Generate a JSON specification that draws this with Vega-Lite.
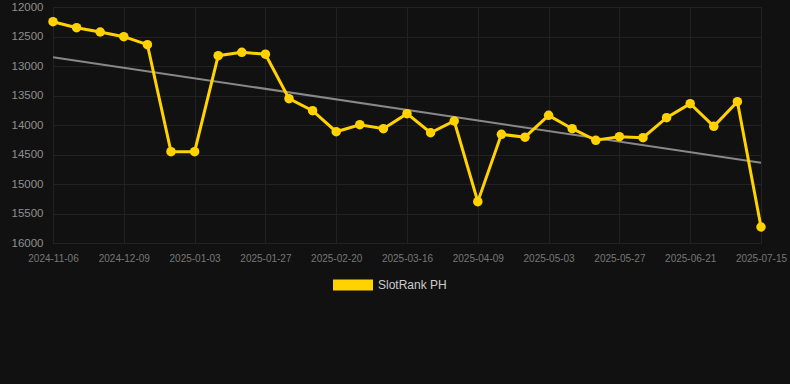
{
  "$schema": "https://vega.github.io/schema/vega-lite/v6.json",
  "width": 737,
  "height": 236,
  "autosize": {"type": "none"},
  "padding": {"left": 53, "top": 7, "right": 0, "bottom": 141},
  "background": "#111111",
  "config": {"view": {"stroke": null}, "font": "Liberation Sans"},
  "data": {"values": [
    {"date": "2024-11-06", "rank": 12249},
    {"date": "2024-11-17", "rank": 12351},
    {"date": "2024-11-28", "rank": 12424},
    {"date": "2024-12-09", "rank": 12503},
    {"date": "2024-12-17", "rank": 12639},
    {"date": "2024-12-25", "rank": 14453},
    {"date": "2025-01-03", "rank": 14453},
    {"date": "2025-01-11", "rank": 12825},
    {"date": "2025-01-19", "rank": 12768},
    {"date": "2025-01-27", "rank": 12800},
    {"date": "2025-02-04", "rank": 13554},
    {"date": "2025-02-12", "rank": 13758},
    {"date": "2025-02-20", "rank": 14114},
    {"date": "2025-02-28", "rank": 13995},
    {"date": "2025-03-08", "rank": 14063},
    {"date": "2025-03-16", "rank": 13808},
    {"date": "2025-03-24", "rank": 14131},
    {"date": "2025-04-01", "rank": 13932},
    {"date": "2025-04-09", "rank": 15300},
    {"date": "2025-04-17", "rank": 14158},
    {"date": "2025-04-25", "rank": 14207},
    {"date": "2025-05-03", "rank": 13836},
    {"date": "2025-05-11", "rank": 14063},
    {"date": "2025-05-19", "rank": 14259},
    {"date": "2025-05-27", "rank": 14198},
    {"date": "2025-06-04", "rank": 14215},
    {"date": "2025-06-12", "rank": 13876},
    {"date": "2025-06-21", "rank": 13639},
    {"date": "2025-06-29", "rank": 14022},
    {"date": "2025-07-07", "rank": 13605},
    {"date": "2025-07-15", "rank": 15729}
  ]},
  "encoding": {
    "x": {
      "field": "date", "type": "ordinal",
      "scale": {"type": "point", "range": [0, 708], "padding": 0},
      "axis": {
        "title": null,
        "values": ["2024-11-06", "2024-12-09", "2025-01-03", "2025-01-27", "2025-02-20", "2025-03-16", "2025-04-09", "2025-05-03", "2025-05-27", "2025-06-21", "2025-07-15"],
        "labelAngle": 0, "labelFontSize": 10, "labelColor": "#777777",
        "domain": false, "ticks": false, "grid": true, "gridColor": "#222222",
        "labelPadding": 10
      }
    }
  },
  "layer": [
    {
      "data": {"values": [
        {"date": "2024-11-06", "rank": 12850},
        {"date": "2025-07-15", "rank": 14640}
      ]},
      "mark": {"type": "line", "color": "#888888", "strokeWidth": 2},
      "encoding": {
        "y": {
          "field": "rank", "type": "quantitative",
          "scale": {"domain": [12000, 16000], "reverse": true, "nice": false, "zero": false},
          "axis": {"title": null, "format": "d", "values": [12000, 12500, 13000, 13500, 14000, 14500, 15000, 15500, 16000], "grid": true, "gridColor": "#222222", "domain": false, "ticks": false, "labelColor": "#8f8f8f", "labelFontSize": 11.5, "labelPadding": 10}
        }
      }
    },
    {
      "mark": {"type": "line", "strokeWidth": 3},
      "encoding": {
        "y": {
          "field": "rank", "type": "quantitative",
          "scale": {"domain": [12000, 16000], "reverse": true, "nice": false, "zero": false},
          "axis": {"title": null, "format": "d", "values": [12000, 12500, 13000, 13500, 14000, 14500, 15000, 15500, 16000], "grid": true, "gridColor": "#222222", "domain": false, "ticks": false, "labelColor": "#8f8f8f", "labelFontSize": 11.5, "labelPadding": 10}
        },
        "color": {
          "datum": "SlotRank PH", "type": "nominal",
          "scale": {"range": ["#FFD200"]},
          "legend": {
            "title": null, "orient": "none", "legendX": 280, "legendY": 258,
            "symbolType": "M-1,-0.275 h2 v0.55 h-2 Z", "symbolSize": 1600,
            "symbolStrokeWidth": 0, "symbolFillColor": "#FFD200",
            "labelColor": "#cccccc", "labelFontSize": 12, "labelOffset": 5
          }
        }
      }
    },
    {
      "mark": {"type": "point", "filled": true, "size": 90, "opacity": 1},
      "encoding": {
        "y": {
          "field": "rank", "type": "quantitative",
          "scale": {"domain": [12000, 16000], "reverse": true, "nice": false, "zero": false},
          "axis": {"title": null, "format": "d", "values": [12000, 12500, 13000, 13500, 14000, 14500, 15000, 15500, 16000], "grid": true, "gridColor": "#222222", "domain": false, "ticks": false, "labelColor": "#8f8f8f", "labelFontSize": 11.5, "labelPadding": 10}
        },
        "color": {"datum": "SlotRank PH", "type": "nominal", "scale": {"range": ["#FFD200"]}}
      }
    }
  ]
}
